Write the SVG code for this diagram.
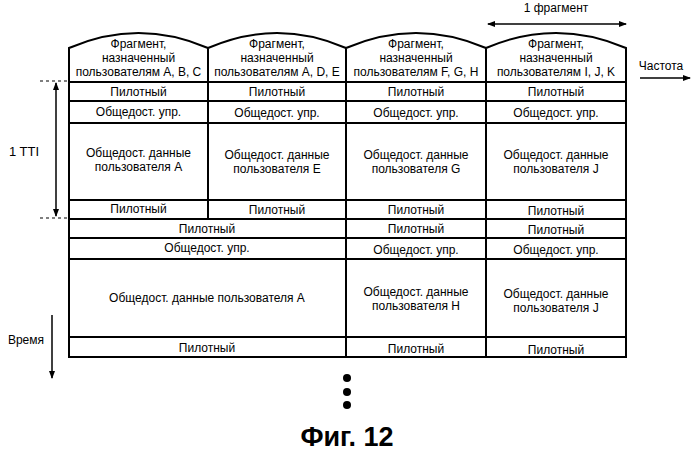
<svg xmlns="http://www.w3.org/2000/svg" width="700" height="453" viewBox="0 0 700 453">
<style>
text{font-family:"Liberation Sans",Arial,sans-serif;font-size:12px;text-anchor:middle;fill:#000}
.c{fill:#fff;stroke:#000;stroke-width:2}
.l{stroke:#000;stroke-width:1.5;fill:none}
.d{stroke:#000;stroke-width:1.2;stroke-dasharray:3,3}
</style>
<defs>
<marker id="a" markerWidth="8" markerHeight="8" refX="7" refY="4" orient="auto-start-reverse" markerUnits="userSpaceOnUse"><path d="M0,1 L8,4 L0,7z"/></marker>
</defs>
<g id="headers">
<path class="c" d="M69,82 V48 Q138.5,18 208,48 V82 Z"/>
<path class="c" d="M208,82 V48 Q277,18 346,48 V82 Z"/>
<path class="c" d="M346,82 V48 Q416,18 486,48 V82 Z"/>
<path class="c" d="M486,82 V48 Q556,18 626,48 V82 Z"/>
<text x="138.5" y="48">Фрагмент,</text><text x="138.5" y="62">назначенный</text><text x="138.5" y="76">пользователям A, B, C</text>
<text x="277" y="48">Фрагмент,</text><text x="277" y="62">назначенный</text><text x="277" y="76">пользователям A, D, E</text>
<text x="416" y="48">Фрагмент,</text><text x="416" y="62">назначенный</text><text x="416" y="76">пользователям F, G, H</text>
<text x="556" y="48">Фрагмент,</text><text x="556" y="62">назначенный</text><text x="556" y="76">пользователям I, J, K</text>
</g>
<g id="tti1">
<rect class="c" x="69" y="82" width="139" height="19"/><rect class="c" x="208" y="82" width="138" height="19"/><rect class="c" x="346" y="82" width="140" height="19"/><rect class="c" x="486" y="82" width="140" height="19"/>
<rect class="c" x="69" y="101" width="139" height="22"/><rect class="c" x="208" y="101" width="138" height="22"/><rect class="c" x="346" y="101" width="140" height="22"/><rect class="c" x="486" y="101" width="140" height="22"/>
<rect class="c" x="69" y="123" width="139" height="77"/><rect class="c" x="208" y="123" width="138" height="77"/><rect class="c" x="346" y="123" width="140" height="77"/><rect class="c" x="486" y="123" width="140" height="77"/>
<rect class="c" x="69" y="200" width="139" height="19"/><rect class="c" x="208" y="200" width="138" height="19"/><rect class="c" x="346" y="200" width="140" height="19"/><rect class="c" x="486" y="200" width="140" height="19"/>
<text x="138.5" y="96">Пилотный</text><text x="277" y="96">Пилотный</text><text x="416" y="96">Пилотный</text><text x="556" y="96">Пилотный</text>
<text x="138.5" y="116">Общедост. упр.</text><text x="277" y="117">Общедост. упр.</text><text x="416" y="117">Общедост. упр.</text><text x="556" y="117">Общедост. упр.</text>
<text x="138.5" y="157">Общедост. данные</text><text x="138.5" y="171">пользователя A</text>
<text x="277" y="159">Общедост. данные</text><text x="277" y="173">пользователя E</text>
<text x="416" y="159">Общедост. данные</text><text x="416" y="173">пользователя G</text>
<text x="556" y="159">Общедост. данные</text><text x="556" y="173">пользователя J</text>
<text x="138.5" y="213">Пилотный</text><text x="277" y="214">Пилотный</text><text x="416" y="214">Пилотный</text><text x="556" y="215">Пилотный</text>
</g>
<g id="tti2">
<rect class="c" x="69" y="219" width="277" height="19"/><rect class="c" x="346" y="219" width="140" height="19"/><rect class="c" x="486" y="219" width="140" height="19"/>
<rect class="c" x="69" y="238" width="277" height="21"/><rect class="c" x="346" y="238" width="140" height="21"/><rect class="c" x="486" y="238" width="140" height="21"/>
<rect class="c" x="69" y="259" width="277" height="78"/><rect class="c" x="346" y="259" width="140" height="78"/><rect class="c" x="486" y="259" width="140" height="78"/>
<rect class="c" x="69" y="337" width="277" height="20"/><rect class="c" x="346" y="337" width="140" height="20"/><rect class="c" x="486" y="337" width="140" height="20"/>
<text x="207" y="233">Пилотный</text><text x="416" y="233">Пилотный</text><text x="556" y="234">Пилотный</text>
<text x="207" y="252">Общедост. упр.</text><text x="416" y="254">Общедост. упр.</text><text x="556" y="254">Общедост. упр.</text>
<text x="207" y="302">Общедост. данные пользователя A</text>
<text x="416" y="296">Общедост. данные</text><text x="416" y="310">пользователя H</text>
<text x="556" y="298">Общедост. данные</text><text x="556" y="312">пользователя J</text>
<text x="207" y="352">Пилотный</text><text x="416" y="353">Пилотный</text><text x="556" y="354">Пилотный</text>
</g>
<g id="connectors">
<line class="d" x1="40" y1="81" x2="69" y2="81"/><line class="d" x1="40" y1="218" x2="69" y2="218"/>
<line class="l" x1="56" y1="83" x2="56" y2="216" marker-start="url(#a)" marker-end="url(#a)"/>
<line class="l" x1="488" y1="24" x2="626" y2="24" marker-start="url(#a)" marker-end="url(#a)"/>
<line class="l" x1="640" y1="78" x2="690" y2="78" marker-end="url(#a)"/>
<line class="l" x1="52" y1="315" x2="52" y2="378" marker-end="url(#a)"/>
</g>
<g id="labels">
<text x="24" y="156" style="font-size:13px">1 TTI</text>
<text x="26" y="344">Время</text>
<text x="556" y="12">1 фрагмент</text>
<text x="661" y="70">Частота</text>
<circle cx="347" cy="378" r="4"/><circle cx="347" cy="392" r="4"/><circle cx="347" cy="405" r="4"/>
<text x="347" y="446" style="font-size:27px;font-weight:bold">Фиг. 12</text>
</g>
</svg>
